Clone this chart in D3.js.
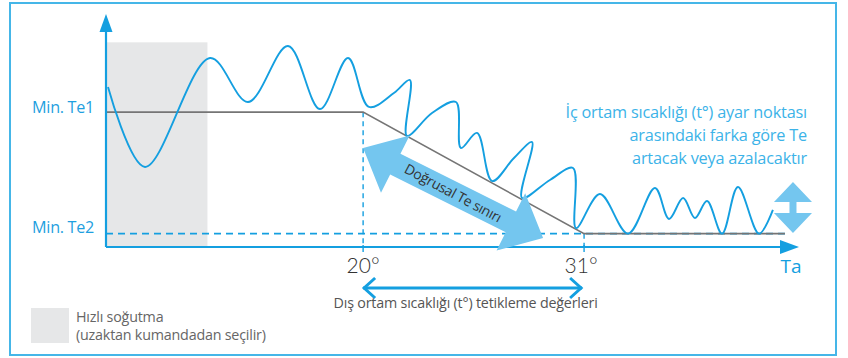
<!DOCTYPE html>
<html>
<head>
<meta charset="utf-8">
<script src="https://cdn.jsdelivr.net/npm/d3@7"></script>
<style>
  body { margin: 0; background: #fff; }
  svg text { font-family: "Open Sans", Lato, sans-serif; }
</style>
</head>
<body>
<div class="chart"></div>
<script>
// outdoor temperature ticks (Ta)
var xTicks = [20, 31];
var xTickLabels = ["20°", "31°"];

// Te levels (abstract units, Te2 = 10, Te1 = 20)
var teLevels = [20, 10];
var teLabels = ["Min. Te1", "Min. Te2"];

// Te limit line: flat at Te1, linear drop between 20° and 31°, flat at Te2
var limitX = [7.2, 20, 31, 41.0];
var limitY = [20, 20, 10, 10];

// fast cooling band
var fastCool = [7.25, 12.25];
var fastCoolTop = 25.75;

// indoor/outlet temperature wave (x in °, y in Te units)
var waveX = [7.30, 9.14, 12.38, 14.27, 16.26, 17.85, 19.25, 20.29, 21.55, 22.33,
             22.18, 23.43, 24.62, 24.87, 25.67, 26.42, 27.51, 28.41, 27.91, 29.30,
             30.45, 30.60, 31.79, 33.19, 34.53, 35.23, 35.93, 36.52, 37.12, 37.87,
             38.66, 39.71, 40.40];
var waveY = [22.07, 15.49, 24.46, 20.84, 25.45, 20.26, 24.46, 20.43, 21.60, 22.65,
             18.04, 19.93, 20.84, 17.05, 18.29, 14.33, 16.23, 17.54, 12.93, 14.42,
             15.40, 10.46, 13.26, 10.0, 13.76, 11.21, 12.93, 11.29, 12.69, 10.0,
             13.84, 10.0, 11.95];

var infoLines = ["İç ortam sıcaklığı (t°) ayar noktası", "arasındaki farka göre Te", "artacak veya azalacaktır"];
var rangeText = "Dış ortam sıcaklığı (t°) tetikleme değerleri";
var slopeText = "Doğrusal Te sınırı";
var legendLines = ["Hızlı soğutma", "(uzaktan kumandadan seçilir)"];

var W = 848, H = 358;
var blue = "#149fe0", lightBlue = "#74c6ef", textBlue = "#3cb3e8";

var svg = d3.select(".chart").append("svg")
    .attr("width", W)
    .attr("height", H);

var x = d3.scaleLinear().domain([7.2, 41.6]).range([106, 797]);
var y = d3.scaleLinear().domain([8.9, 28]).range([247, 15]);

// frame
svg.append("rect")
    .attr("x", 10).attr("y", 3)
    .attr("width", 826).attr("height", 352)
    .attr("fill", "none")
    .attr("stroke", "#45b6e8")
    .attr("stroke-width", 2);

// fast cooling band
svg.append("rect")
    .attr("x", x(fastCool[0]))
    .attr("y", y(fastCoolTop))
    .attr("width", x(fastCool[1]) - x(fastCool[0]))
    .attr("height", y(8.9) - y(fastCoolTop))
    .attr("fill", "#e6e7e8");

// Te2 dashed level
svg.append("line")
    .attr("x1", x(7.2)).attr("x2", x(41.0))
    .attr("y1", y(10)).attr("y2", y(10))
    .attr("stroke", blue)
    .attr("stroke-width", 1.6)
    .attr("stroke-dasharray", "7,5");

// vertical dashed guides at the tick temperatures
svg.selectAll("line.guide")
    .data(xTicks)
    .enter().append("line")
    .attr("class", "guide")
    .attr("x1", function(d){ return x(d); })
    .attr("x2", function(d){ return x(d); })
    .attr("y1", function(d, i){ return y(limitY[i + 1]); })
    .attr("y2", y(8.9))
    .attr("stroke", blue)
    .attr("stroke-width", 1.4)
    .attr("stroke-dasharray", "5,4");

// Te limit line
var limitLine = d3.line()
    .x(function(d){ return x(d[0]); })
    .y(function(d){ return y(d[1]); });

svg.append("path")
    .datum(d3.zip(limitX, limitY))
    .attr("d", limitLine)
    .attr("fill", "none")
    .attr("stroke", "#757575")
    .attr("stroke-width", 1.6);

// wave
var waveLine = d3.line()
    .x(function(d){ return x(d[0]); })
    .y(function(d){ return y(d[1]); })
    .curve(d3.curveCatmullRom.alpha(0.5));

svg.append("path")
    .datum(d3.zip(waveX, waveY))
    .attr("d", waveLine)
    .attr("fill", "none")
    .attr("stroke", blue)
    .attr("stroke-width", 1.9);

// axes
svg.append("line")
    .attr("x1", x(7.2)).attr("x2", x(7.2))
    .attr("y1", y(8.9)).attr("y2", 30)
    .attr("stroke", blue).attr("stroke-width", 2.2);
svg.append("path")
    .attr("d", "M" + x(7.2) + ",14 l-6.5,18 l13,0 z")
    .attr("fill", blue);

svg.append("line")
    .attr("x1", x(7.2)).attr("x2", 782)
    .attr("y1", y(8.9)).attr("y2", y(8.9))
    .attr("stroke", blue).attr("stroke-width", 2);
svg.append("path")
    .attr("d", "M799," + y(8.9) + " l-19,-7 l0,14 z")
    .attr("fill", blue);

// ticks
svg.selectAll("line.tick")
    .data(xTicks)
    .enter().append("line")
    .attr("class", "tick")
    .attr("x1", function(d){ return x(d); })
    .attr("x2", function(d){ return x(d); })
    .attr("y1", y(8.9) - 2).attr("y2", y(8.9) + 5)
    .attr("stroke", blue).attr("stroke-width", 1.4);

svg.selectAll("text.xlab")
    .data(xTicks)
    .enter().append("text")
    .attr("class", "xlab")
    .attr("x", function(d, i){ return x(d) - (i === 1 ? 3 : 0); })
    .attr("y", 273)
    .attr("text-anchor", "middle")
    .attr("fill", "#333")
    .attr("font-size", 21)
    .style("font-family", "Lato, sans-serif")
    .style("font-weight", 300)
    .text(function(d, i){ return xTickLabels[i]; });

svg.append("text")
    .attr("x", 791).attr("y", 273)
    .attr("text-anchor", "middle")
    .attr("fill", blue)
    .attr("font-size", 19)
    .text("Ta");

// Te level labels
svg.selectAll("text.telab")
    .data(teLevels)
    .enter().append("text")
    .attr("class", "telab")
    .attr("x", 94)
    .attr("y", function(d, i){ return y(d) + (i === 0 ? 1 : -1); })
    .attr("text-anchor", "end")
    .attr("fill", "#1f9fe0")
    .attr("font-size", 16.2)
    .style("letter-spacing", "-0.3px")
    .text(function(d, i){ return teLabels[i]; });

// double arrow builder
function doubleArrow(len, h, w, s){
    return "M0,0 L" + h + "," + (-w) + " L" + h + "," + (-s) + " L" + (len - h) + "," + (-s) +
        " L" + (len - h) + "," + (-w) + " L" + len + ",0 L" + (len - h) + "," + w +
        " L" + (len - h) + "," + s + " L" + h + "," + s + " L" + h + "," + w + " Z";
}

// diagonal arrow along the linear limit
var a0 = [x(20), y(17.05)], a1 = [x(28.96), y(9.64)];
var dx = a1[0] - a0[0], dy = a1[1] - a0[1];
var aLen = Math.sqrt(dx * dx + dy * dy);
var aAng = Math.atan2(dy, dx) * 180 / Math.PI;

var diag = svg.append("g")
    .attr("transform", "translate(" + a0[0] + "," + a0[1] + ") rotate(" + aAng + ")");
diag.append("path")
    .attr("d", doubleArrow(aLen, 36, 32, 11.5))
    .attr("fill", lightBlue);
diag.append("text")
    .attr("x", aLen / 2).attr("y", 5)
    .attr("text-anchor", "middle")
    .attr("transform", "rotate(1.5," + (aLen / 2) + ",0)")
    .attr("fill", "#333")
    .attr("font-size", 14)
    .style("letter-spacing", "-0.3px")
    .text(slopeText);

// vertical arrow on the right
var v0 = [x(41.4), y(14.25)], v1 = [x(41.4), y(10.05)];
svg.append("g")
    .attr("transform", "translate(" + v0[0] + "," + v0[1] + ") rotate(90)")
    .append("path")
    .attr("d", doubleArrow(v1[1] - v0[1], 20, 19, 3.5))
    .attr("fill", lightBlue);

// info text
svg.selectAll("text.info")
    .data(infoLines)
    .enter().append("text")
    .attr("class", "info")
    .attr("x", 807)
    .attr("y", function(d, i){ return 118 + i * 23; })
    .attr("text-anchor", "end")
    .attr("fill", textBlue)
    .attr("font-size", 16.3)
    .style("letter-spacing", "-0.2px")
    .text(function(d){ return d; });

// trigger range arrow
var ry = 288;
svg.append("line")
    .attr("x1", x(20)).attr("x2", x(31) - 2)
    .attr("y1", ry).attr("y2", ry)
    .attr("stroke", blue).attr("stroke-width", 3);
svg.append("path")
    .attr("d", "M" + (x(20) + 12) + "," + (ry - 10) + " L" + (x(20) + 1) + "," + ry + " L" + (x(20) + 12) + "," + (ry + 10))
    .attr("fill", "none").attr("stroke", blue).attr("stroke-width", 3);
svg.append("path")
    .attr("d", "M" + (x(31) - 14) + "," + (ry - 10) + " L" + (x(31) - 3) + "," + ry + " L" + (x(31) - 14) + "," + (ry + 10))
    .attr("fill", "none").attr("stroke", blue).attr("stroke-width", 3);

svg.append("text")
    .attr("x", (x(20) + x(31)) / 2 - 8)
    .attr("y", 308)
    .attr("text-anchor", "middle")
    .attr("fill", "#555")
    .attr("font-size", 14.3)
    .style("letter-spacing", "-0.2px")
    .text(rangeText);

// legend
svg.append("rect")
    .attr("x", 31).attr("y", 308)
    .attr("width", 38).attr("height", 35)
    .attr("fill", "#e6e7e8");

svg.selectAll("text.leg")
    .data(legendLines)
    .enter().append("text")
    .attr("class", "leg")
    .attr("x", 76)
    .attr("y", function(d, i){ return 322 + i * 18; })
    .attr("fill", "#666")
    .attr("font-size", 14.3)
    .style("letter-spacing", "-0.2px")
    .text(function(d){ return d; });
</script>
</body>
</html>
